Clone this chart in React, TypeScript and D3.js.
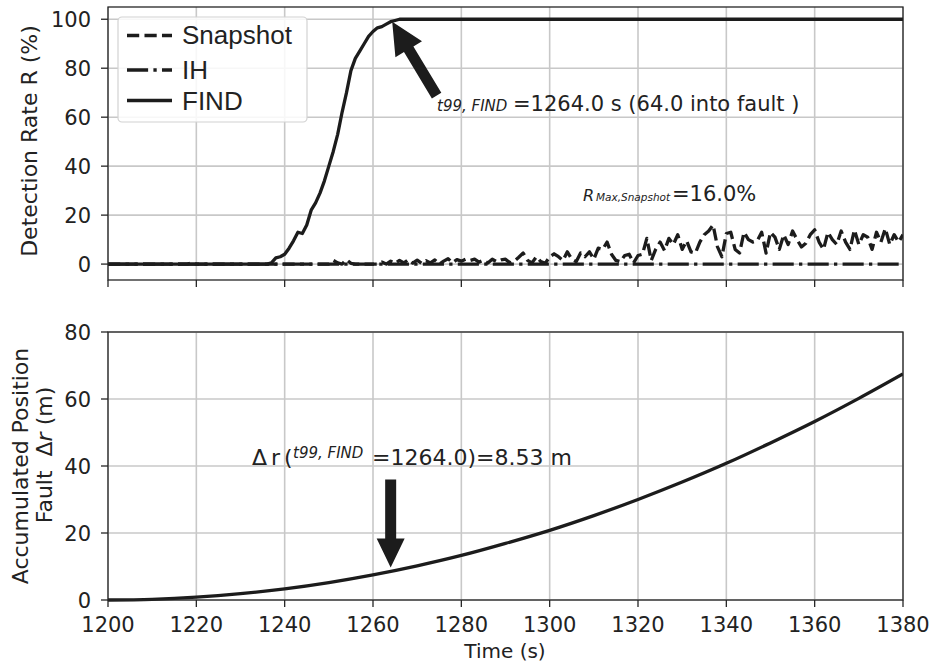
import React from "react";
import * as d3 from "d3";

const W = 933;
const H = 667;

// ---------- data ----------
const xTickValues = [1200, 1220, 1240, 1260, 1280, 1300, 1320, 1340, 1360, 1380];
const rateTickValues = [0, 20, 40, 60, 80, 100];
const driftTickValues = [0, 20, 40, 60, 80];

// Snapshot detection rate (%), one value per second from 1200 s to 1380 s
const snapshotValues = [
  0, 0, 0, 0, 0, 0, 0, 0, 0, 0,
  0, 0, 0, 0, 0, 0, 0, 0, 0, 0.6,
  0, 0, 0, 0, 0, 0, 0, 0, 0, 0,
  0, 0, 0, 0, 0, 0, 0, 0, 0, 0,
  0, 0, 0, 0, 0, 0, 0, 0, 0, 0,
  0, 1.5, 0.5, 0, 1.8, 0.3, 0, 0, 0, 0,
  0, 0, 0.8, 0, 1.2, 0.3, 1.5, 0.5, 1.8, 0.4,
  1.6, 0.3, 1.4, 0.5, 1.7, 0, 1.2, 2.2, 0.6, 1.8,
  1.2, 2, 1.5, 2, 0.8, 1.6, 0.4, 2, 1, 1.7,
  2, 0.5, 1.2, 2.8, 4.5, 1.5, 0.5, 3, 1, 0.3,
  3, 4.2, 3, 1.5, 5, 2, 1, 4.5, 3, 5,
  2, 6.5, 6, 9, 4, 1.5, 1, 3.5, 4, 0.5,
  3.5, 4, 10.5, 1.5, 6, 9, 5.5, 10.5, 8, 12,
  6, 9.5, 5, 4.5, 9, 12, 13.5, 16, 7, 3,
  12.5, 13, 6, 4.5, 13, 10, 9, 9.5, 13, 4.5,
  13, 11, 6, 12, 8, 13.5, 10, 7, 8.5, 12,
  14, 9, 6, 13, 10, 8, 13.5, 9, 6, 14,
  8, 12, 11, 6, 13, 9, 14.5, 8, 12, 9,
  12,
];
const snapshotTimes = d3.range(1200, 1200 + snapshotValues.length);

// IH detection rate (%)
const ihTimes = [1200, 1380];
const ihValues = [0, 0];

// FIND detection rate (%)
const findTimes = [
  1200, 1236, 1237, 1238, 1239, 1240, 1241, 1242, 1243, 1244, 1245, 1246, 1247,
  1248, 1249, 1250, 1251, 1252, 1253, 1254, 1255, 1256, 1257, 1258, 1259, 1260,
  1261, 1262, 1263, 1264, 1265, 1266, 1380,
];
const findValues = [
  0, 0, 0.5, 2.5, 3, 4, 6.5, 9.5, 13, 12.5, 16, 22, 25,
  29, 34, 40, 46, 53, 62, 70, 79, 84, 87, 90, 93, 95,
  96.5, 97, 98, 99, 99.5, 100, 100,
];

// Accumulated position fault (m)
const driftTimes = [
  1200, 1210, 1220, 1230, 1240, 1250, 1260, 1270, 1280, 1290,
  1300, 1310, 1320, 1330, 1340, 1350, 1360, 1370, 1380,
];
const driftValues = [
  0, 0.21, 0.83, 1.88, 3.33, 5.21, 7.5, 10.2, 13.3, 16.9,
  20.8, 25.2, 30.0, 35.2, 40.8, 46.9, 53.3, 60.2, 67.5,
];

// annotation anchors (data coords)
const t99 = 1264;
const topArrowFrom = [1274.4, 68.8];
const topArrowTo = [t99, 100];
const botArrowFrom = [t99, 36];
const botArrowTo = [t99, 8.53];

const FONT = "DejaVu Sans";
const TXT = "#222222";
const LINE = "#1c1c1c";
const GRID = "#c8c8c8";
const SPINE = "#262626";

function arrowPath(x1: number, y1: number, x2: number, y2: number, shaft: number, head: number, headLen: number, shrink: number) {
  const dx = x2 - x1;
  const dy = y2 - y1;
  const len = Math.hypot(dx, dy);
  const ux = dx / len;
  const uy = dy / len;
  const tx = x2 - ux * shrink;
  const ty = y2 - uy * shrink;
  const nx = -uy;
  const ny = ux;
  const bx = tx - ux * headLen;
  const by = ty - uy * headLen;
  const s = shaft / 2;
  const h = head / 2;
  const pts = [
    [x1 + nx * s, y1 + ny * s],
    [bx + nx * s, by + ny * s],
    [bx + nx * h, by + ny * h],
    [tx, ty],
    [bx - nx * h, by - ny * h],
    [bx - nx * s, by - ny * s],
    [x1 - nx * s, y1 - ny * s],
  ];
  return "M" + pts.map((p) => p[0].toFixed(2) + "," + p[1].toFixed(2)).join("L") + "Z";
}

export default function App() {
  const left = 108;
  const right = 903;
  const x = d3.scaleLinear().domain([1200, 1380]).range([left, right]);
  const yTop = d3.scaleLinear().domain([-6.5, 105]).range([280, 7]);
  const yBot = d3.scaleLinear().domain([0, 80]).range([600, 332]);

  const topLine = d3
    .line<[number, number]>()
    .x((d) => x(d[0]))
    .y((d) => yTop(d[1]));
  const botLine = d3
    .line<[number, number]>()
    .x((d) => x(d[0]))
    .y((d) => yBot(d[1]))
    .curve(d3.curveMonotoneX);

  const snapPts = snapshotTimes.map((t, i) => [t, snapshotValues[i]] as [number, number]);
  const ihPts = ihTimes.map((t, i) => [t, ihValues[i]] as [number, number]);
  const findPts = findTimes.map((t, i) => [t, findValues[i]] as [number, number]);
  const driftPts = driftTimes.map((t, i) => [t, driftValues[i]] as [number, number]);

  const lw = 3.3;
  const dashed = `${3.7 * lw},${1.6 * lw}`;
  const dashdot = `${6.4 * lw},${1.6 * lw},${1 * lw},${1.6 * lw}`;

  const topY0 = yTop.range()[1];
  const topY1 = yTop.range()[0];
  const botY0 = yBot.range()[1];
  const botY1 = yBot.range()[0];

  const tickFont = 21;

  const topArrow = arrowPath(
    x(topArrowFrom[0]), yTop(topArrowFrom[1]),
    x(topArrowTo[0]), yTop(topArrowTo[1]),
    11, 31, 32, 3
  );
  const botArrow = arrowPath(
    x(botArrowFrom[0]), yBot(botArrowFrom[1]),
    x(botArrowTo[0]), yBot(botArrowTo[1]),
    11, 28, 29, 4
  );

  return (
    <svg
      width={W}
      height={H}
      viewBox={`0 0 ${W} ${H}`}
      style={{ position: "absolute", left: 0, top: 0, background: "#ffffff" }}
      fontFamily={FONT}
    >
      <defs>
        <clipPath id="clipTop">
          <rect x={left} y={topY0} width={right - left} height={topY1 - topY0} />
        </clipPath>
        <clipPath id="clipBot">
          <rect x={left} y={botY0 - 2} width={right - left} height={botY1 - botY0 + 4} />
        </clipPath>
      </defs>
      <rect x={0} y={0} width={W} height={H} fill="#ffffff" />

      {/* ---------- TOP PANEL ---------- */}
      <g>
        {xTickValues.map((t) => (
          <line key={"gx" + t} x1={x(t)} x2={x(t)} y1={topY0} y2={topY1} stroke={GRID} strokeWidth={1.6} />
        ))}
        {rateTickValues.map((v) => (
          <line key={"gy" + v} x1={left} x2={right} y1={yTop(v)} y2={yTop(v)} stroke={GRID} strokeWidth={1.6} />
        ))}
        <g clipPath="url(#clipTop)" fill="none" strokeLinejoin="round">
          <path d={topLine(snapPts) || ""} stroke={LINE} strokeWidth={lw} strokeDasharray={dashed} />
          <path d={topLine(ihPts) || ""} stroke={LINE} strokeWidth={lw} strokeDasharray={dashdot} />
          <path d={topLine(findPts) || ""} stroke={LINE} strokeWidth={lw} />
        </g>
        <rect x={left} y={topY0} width={right - left} height={topY1 - topY0} fill="none" stroke={SPINE} strokeWidth={1.3} />
        {rateTickValues.map((v) => (
          <g key={"ty" + v}>
            <line x1={left - 7} x2={left} y1={yTop(v)} y2={yTop(v)} stroke={SPINE} strokeWidth={1.3} />
            <text x={left - 17} y={yTop(v) + 0.364 * tickFont} fontSize={tickFont} textAnchor="end" fill={TXT}>
              {v}
            </text>
          </g>
        ))}
        {xTickValues.map((t) => (
          <line key={"txt" + t} x1={x(t)} x2={x(t)} y1={topY1} y2={topY1 + 7} stroke={SPINE} strokeWidth={1.3} />
        ))}
        <text
          transform={`translate(37,141) rotate(-90)`}
          fontSize={22}
          textAnchor="middle"
          fill={TXT}
        >
          Detection Rate R (%)
        </text>

        {/* legend */}
        <rect x={118} y={17} width={189} height={105} rx={4} fill="#ffffff" fillOpacity={0.85} stroke="#d2d2d2" strokeWidth={1.2} />
        <line x1={127} x2={172} y1={35.5} y2={35.5} stroke={LINE} strokeWidth={lw} strokeDasharray={dashed} />
        <line x1={127} x2={172} y1={70} y2={70} stroke={LINE} strokeWidth={lw} strokeDasharray={dashdot} />
        <line x1={127} x2={172} y1={100.5} y2={100.5} stroke={LINE} strokeWidth={lw} />
        <g fontFamily="Liberation Sans" fontSize={26} fill={TXT}>
          <text x={182} y={43.5}>Snapshot</text>
          <text x={182} y={78.5}>IH</text>
          <text x={182} y={110}>FIND</text>
        </g>

        {/* annotations */}
        <path d={topArrow} fill={LINE} />
        <text y={111} fill={TXT}>
          <tspan x={437} fontSize={15} fontStyle="italic">t99, FIND</tspan>
          <tspan x={513} fontSize={21} style={{ whiteSpace: "pre" }}>=1264.0 s (64.0 into fault )</tspan>
        </text>
        <text y={201} fill={TXT}>
          <tspan x={583} fontSize={16} fontStyle="italic">R</tspan>
          <tspan x={596} fontSize={10.5} fontStyle="italic">Max,Snapshot</tspan>
          <tspan x={672} fontSize={21}>=16.0%</tspan>
        </text>
      </g>

      {/* ---------- BOTTOM PANEL ---------- */}
      <g>
        {xTickValues.map((t) => (
          <line key={"bgx" + t} x1={x(t)} x2={x(t)} y1={botY0} y2={botY1} stroke={GRID} strokeWidth={1.6} />
        ))}
        {driftTickValues.map((v) => (
          <line key={"bgy" + v} x1={left} x2={right} y1={yBot(v)} y2={yBot(v)} stroke={GRID} strokeWidth={1.6} />
        ))}
        <g clipPath="url(#clipBot)" fill="none">
          <path d={botLine(driftPts) || ""} stroke={LINE} strokeWidth={lw} />
        </g>
        <rect x={left} y={botY0} width={right - left} height={botY1 - botY0} fill="none" stroke={SPINE} strokeWidth={1.3} />
        {driftTickValues.map((v) => (
          <g key={"by" + v}>
            <line x1={left - 7} x2={left} y1={yBot(v)} y2={yBot(v)} stroke={SPINE} strokeWidth={1.3} />
            <text x={left - 17} y={yBot(v) + 0.364 * tickFont} fontSize={tickFont} textAnchor="end" fill={TXT}>
              {v}
            </text>
          </g>
        ))}
        {xTickValues.map((t) => (
          <g key={"bx" + t}>
            <line x1={x(t)} x2={x(t)} y1={botY1} y2={botY1 + 7} stroke={SPINE} strokeWidth={1.3} />
            <text x={x(t)} y={632} fontSize={tickFont} textAnchor="middle" fill={TXT}>
              {t}
            </text>
          </g>
        ))}
        <text x={505} y={658} fontSize={20} textAnchor="middle" fill={TXT}>
          Time (s)
        </text>
        <text transform={`translate(28,466) rotate(-90)`} fontSize={22} textAnchor="middle" fill={TXT}>
          Accumulated Position
        </text>
        <text
          transform={`translate(52,455) rotate(-90)`}
          fontSize={22}
          textAnchor="middle"
          fill={TXT}
          style={{ whiteSpace: "pre" }}
        >
          <tspan>{"Fault  \u0394"}</tspan>
          <tspan fontStyle="italic">r</tspan>
          <tspan>{" (m)"}</tspan>
        </text>

        <path d={botArrow} fill={LINE} />
        <text y={465} fill={TXT}>
          <tspan x={252} fontSize={22}>{"\u0394"}</tspan>
          <tspan x={271} fontSize={22}>r</tspan>
          <tspan x={284} fontSize={22}>(</tspan>
          <tspan x={293} y={458} fontSize={15} fontStyle="italic">t99, FIND</tspan>
          <tspan x={372} y={465} fontSize={22}>=1264.0)=8.53 m</tspan>
        </text>
      </g>
    </svg>
  );
}
